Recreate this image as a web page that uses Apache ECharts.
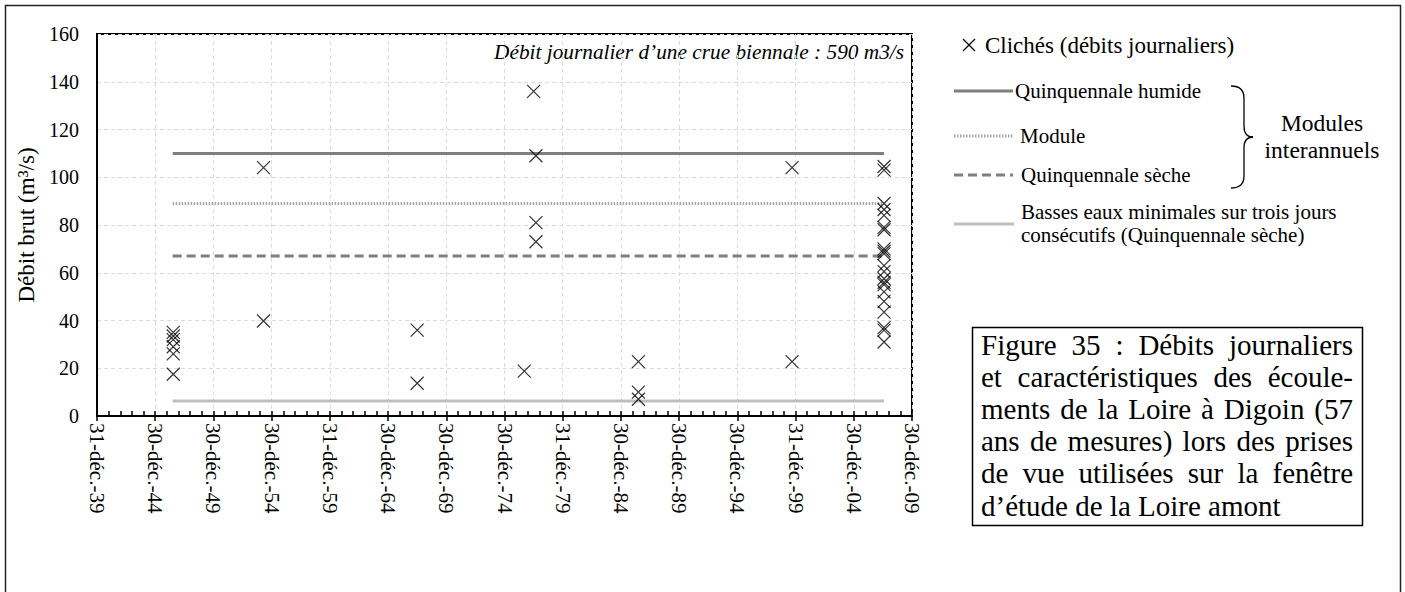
<!DOCTYPE html>
<html>
<head>
<meta charset="utf-8">
<script src="https://cdn.jsdelivr.net/npm/echarts@6/dist/echarts.min.js"></script>
<style>
  html, body { margin: 0; padding: 0; background: #fff; }
  #chart { width: 1405px; height: 592px; }
</style>
</head>
<body>
<div id="chart"></div>
<script>
// ---------- data ----------
const xTickLabels = ['31-déc.-39', '30-déc.-44', '30-déc.-49', '30-déc.-54', '31-déc.-59', '30-déc.-64', '30-déc.-69',
  '30-déc.-74', '31-déc.-79', '30-déc.-84', '30-déc.-89', '30-déc.-94', '31-déc.-99', '30-déc.-04', '30-déc.-09'];
const yTickValues = [0, 20, 40, 60, 80, 100, 120, 140, 160];

// photo dates (decimal years) and daily discharge (m3/s)
const photoDates = [
  1946.55, 1946.55, 1946.55, 1946.55, 1946.55, 1946.55,
  1954.3, 1954.3,
  1967.5, 1967.5,
  1976.7,
  1977.5, 1977.7, 1977.7, 1977.7,
  1986.5, 1986.5, 1986.5,
  1999.7, 1999.7,
  2007.6, 2007.6, 2007.6, 2007.6, 2007.6, 2007.6, 2007.6, 2007.6, 2007.6, 2007.6, 2007.6,
  2007.6, 2007.6, 2007.6, 2007.6, 2007.6, 2007.6, 2007.6, 2007.6, 2007.6, 2007.6
];
const photoFlows = [
  35, 33.5, 32, 29, 26, 17.5,
  104, 39.8,
  36, 13.7,
  18.8,
  136, 109, 81, 73,
  22.8, 10, 7,
  104, 22.8,
  104.5, 103, 89, 86.5, 84, 79, 78, 70, 69, 68, 63,
  60.5, 57.5, 56, 55, 52, 48, 43.5, 37, 36, 31
];

const refLineDates = [1946.5, 2007.6];
const quinquennaleHumide = 110;
const moduleValue = 89;
const quinquennaleSeche = 67;
const bassesEaux = 6.3;

const seriesNames = ['Clichés (débits journaliers)', 'Quinquennale humide', 'Module', 'Quinquennale sèche',
  'Basses eaux minimales sur trois jours consécutifs (Quinquennale sèche)'];

const captionLines = ['Figure 35 : Débits journaliers', 'et caractéristiques des écoule-', 'ments de la Loire à Digoin (57',
  'ans de mesures) lors des prises', 'de vue utilisées sur la fenêtre', 'd’étude de la Loire amont'];

// ---------- build ----------
const FONT = '"Liberation Serif", "Times New Roman", serif';
const scatterData = photoDates.map((d, i) => [d, photoFlows[i]]);
const refLine = v => refLineDates.map(d => [d, v]);

const chart = echarts.init(document.getElementById('chart'), null, { renderer: 'svg' });

// justified caption via text measurement
const measureCtx = document.createElement('canvas').getContext('2d');
const capFontSize = 29;
measureCtx.font = capFontSize + 'px ' + FONT;
const capLeft = 981, capRight = 1353, capTop0 = 345, capLineH = 32.1;
const captionEls = [];
captionLines.forEach((line, li) => {
  const y = capTop0 + li * capLineH;
  const words = line.split(' ');
  const last = li === captionLines.length - 1;
  if (last || words.length === 1) {
    captionEls.push({ type: 'text', x: capLeft, y: y,
      style: { text: line, font: capFontSize + 'px ' + FONT, fill: '#000', verticalAlign: 'middle', align: 'left' } });
    return;
  }
  const widths = words.map(w => measureCtx.measureText(w).width);
  const total = widths.reduce((a, b) => a + b, 0);
  const gap = (capRight - capLeft - total) / (words.length - 1);
  let x = capLeft;
  words.forEach((w, wi) => {
    captionEls.push({ type: 'text', x: x, y: y,
      style: { text: w, font: capFontSize + 'px ' + FONT, fill: '#000', verticalAlign: 'middle', align: 'left' } });
    x += widths[wi] + gap;
  });
});

const legFont = '21px ' + FONT;
const braceStyle = { fill: 'none', stroke: '#000', lineWidth: 1.3 };
const graphic = [
  // outer frame
  { type: 'rect', shape: { x: 5.5, y: 5.5, width: 1395, height: 620 }, style: { fill: 'none', stroke: '#222', lineWidth: 1.5 }, silent: true },
  // annotation
  { type: 'text', x: 904, y: 52, style: { text: 'Débit journalier d’une crue biennale : 590 m3/s', font: 'italic 21.3px ' + FONT, fill: '#000', align: 'right', verticalAlign: 'middle' } },
  // legend: cross
  { type: 'line', shape: { x1: 963, y1: 39, x2: 975, y2: 51 }, style: { stroke: '#000', lineWidth: 1.2 } },
  { type: 'line', shape: { x1: 975, y1: 39, x2: 963, y2: 51 }, style: { stroke: '#000', lineWidth: 1.2 } },
  { type: 'text', x: 985, y: 45, style: { text: seriesNames[0], font: '23px ' + FONT, fill: '#000', verticalAlign: 'middle' } },
  // humide
  { type: 'line', shape: { x1: 954, y1: 91, x2: 1013, y2: 91 }, style: { stroke: '#7f7f7f', lineWidth: 3 } },
  { type: 'text', x: 1015, y: 91, style: { text: seriesNames[1], font: legFont, fill: '#000', verticalAlign: 'middle' } },
  // module
  { type: 'line', shape: { x1: 954, y1: 136, x2: 1013, y2: 136 }, style: { stroke: '#a6a6a6', lineWidth: 3, lineDash: [1.5, 1.5] } },
  { type: 'text', x: 1020, y: 136, style: { text: seriesNames[2], font: legFont, fill: '#000', verticalAlign: 'middle' } },
  // seche
  { type: 'line', shape: { x1: 954, y1: 175, x2: 1013, y2: 175 }, style: { stroke: '#7f7f7f', lineWidth: 3, lineDash: [9, 5] } },
  { type: 'text', x: 1021, y: 175, style: { text: seriesNames[3], font: legFont, fill: '#000', verticalAlign: 'middle' } },
  // basses eaux
  { type: 'line', shape: { x1: 954, y1: 224, x2: 1014, y2: 224 }, style: { stroke: '#bfbfbf', lineWidth: 3 } },
  { type: 'text', x: 1021, y: 212, style: { text: 'Basses eaux minimales sur trois jours', font: legFont, fill: '#000', verticalAlign: 'middle' } },
  { type: 'text', x: 1021, y: 235, style: { text: 'consécutifs (Quinquennale sèche)', font: legFont, fill: '#000', verticalAlign: 'middle' } },
  // brace
  { type: 'bezierCurve', shape: { x1: 1231, y1: 86, cpx1: 1244, cpy1: 86, x2: 1244, y2: 98 }, style: braceStyle },
  { type: 'line', shape: { x1: 1244, y1: 98, x2: 1244, y2: 126 }, style: braceStyle },
  { type: 'bezierCurve', shape: { x1: 1244, y1: 126, cpx1: 1244, cpy1: 137, x2: 1253, y2: 137 }, style: braceStyle },
  { type: 'bezierCurve', shape: { x1: 1253, y1: 137, cpx1: 1244, cpy1: 137, x2: 1244, y2: 148 }, style: braceStyle },
  { type: 'line', shape: { x1: 1244, y1: 148, x2: 1244, y2: 176 }, style: braceStyle },
  { type: 'bezierCurve', shape: { x1: 1244, y1: 176, cpx1: 1244, cpy1: 188, x2: 1231, y2: 188 }, style: braceStyle },
  { type: 'text', x: 1322, y: 123, style: { text: 'Modules', font: '23.5px ' + FONT, fill: '#000', align: 'center', verticalAlign: 'middle' } },
  { type: 'text', x: 1322, y: 150, style: { text: 'interannuels', font: '23.5px ' + FONT, fill: '#000', align: 'center', verticalAlign: 'middle' } },
  // caption box
  { type: 'rect', shape: { x: 972.5, y: 327.5, width: 390, height: 198 }, style: { fill: '#fff', stroke: '#000', lineWidth: 1.5 } }
].concat(captionEls);

const option = {
  backgroundColor: '#fff',
  animation: false,
  textStyle: { fontFamily: FONT },
  grid: { left: 97, top: 34, right: 493, bottom: 176, show: true, borderColor: '#000', borderWidth: 2, outerBoundsMode: 'none' },
  xAxis: [
    {
      type: 'value', min: 1940, max: 2010, interval: 5, position: 'bottom',
      axisLine: { show: true, onZero: false, lineStyle: { color: '#000', width: 2 } },
      axisTick: { show: true, inside: false, length: 5, lineStyle: { color: '#000', width: 1.5 } },
      axisLabel: {
        rotate: -90, margin: 7, color: '#000', fontSize: 21, fontFamily: FONT,
        formatter: v => xTickLabels[Math.round((v - 1940) / 5)] || ''
      },
      splitLine: { show: true, lineStyle: { color: '#dcdcdc', type: [4, 3], width: 1 } }
    },
    {
      type: 'value', min: 1940, max: 2010, interval: 1, position: 'bottom',
      axisLine: { show: false, onZero: false },
      axisTick: { show: true, inside: true, length: 5, lineStyle: { color: '#000', width: 1.5 } },
      axisLabel: { show: false },
      splitLine: { show: false }
    }
  ],
  yAxis: {
    type: 'value', min: yTickValues[0], max: yTickValues[yTickValues.length - 1], interval: 20,
    name: 'Débit brut (m³/s)', nameLocation: 'middle', nameGap: 56, nameRotate: 90,
    nameTextStyle: { color: '#000', fontSize: 23, fontFamily: FONT },
    axisLine: { show: true, lineStyle: { color: '#000', width: 2 } },
    axisTick: { show: false },
    axisLabel: { color: '#000', fontSize: 20, fontFamily: FONT, margin: 18 },
    splitLine: { show: true, lineStyle: { color: '#dcdcdc', type: [4, 3], width: 1 } }
  },
  series: [
    { name: seriesNames[4], type: 'line', data: refLine(bassesEaux), symbol: 'none', lineStyle: { color: '#bfbfbf', width: 3 }, z: 2 },
    { name: seriesNames[3], type: 'line', data: refLine(quinquennaleSeche), symbol: 'none', lineStyle: { color: '#7f7f7f', width: 3, type: [9, 5] }, z: 2 },
    { name: seriesNames[2], type: 'line', data: refLine(moduleValue), symbol: 'none', lineStyle: { color: '#a6a6a6', width: 3, type: [1.5, 1.5] }, z: 2 },
    { name: seriesNames[1], type: 'line', data: refLine(quinquennaleHumide), symbol: 'none', lineStyle: { color: '#7f7f7f', width: 3 }, z: 2 },
    {
      name: seriesNames[0], type: 'scatter', data: scatterData,
      symbol: 'path://M0,0L10,10M10,0L0,10', symbolSize: 13,
      itemStyle: { color: 'transparent', borderColor: '#000', borderWidth: 1.2 }, z: 3
    }
  ],
  graphic: graphic
};
chart.setOption(option);
</script>
</body>
</html>
